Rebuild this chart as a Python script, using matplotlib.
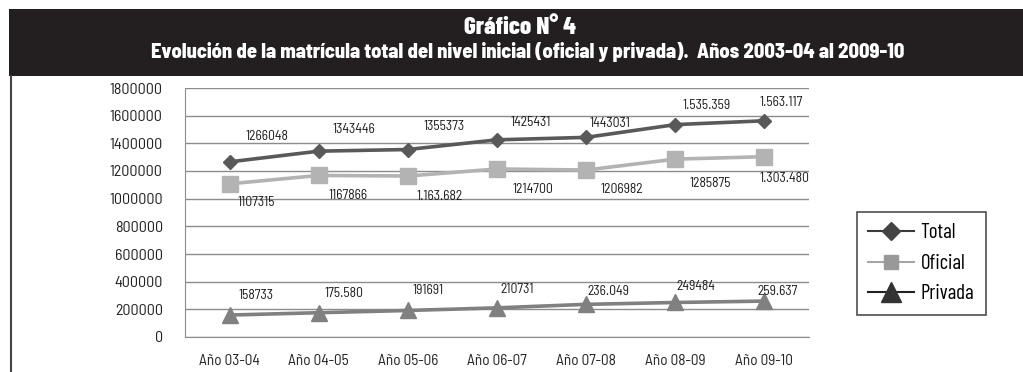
import matplotlib
matplotlib.use("Agg")
import matplotlib.pyplot as plt
from matplotlib.lines import Line2D
from matplotlib.patches import Rectangle

# Enrolment series, school years 2003-04 .. 2009-10
years = ["Año 03-04", "Año 04-05", "Año 05-06", "Año 06-07", "Año 07-08", "Año 08-09", "Año 09-10"]
total = [1266048, 1343446, 1355373, 1425431, 1443031, 1535359, 1563117]
oficial = [1107315, 1167866, 1163682, 1214700, 1206982, 1285875, 1303480]
privada = [158733, 175580, 191691, 210731, 236049, 249484, 259637]

# which data labels are printed with thousands separators
total_dots = [False, False, False, False, False, True, True]
oficial_dots = [False, False, True, False, False, False, True]
privada_dots = [False, True, False, False, True, False, True]

# label offsets in pixels (dx, dy; dy positive = upwards)
total_off = [(37, 25), (35, 22), (36, 23), (34, 17), (24, 14), (31, 19), (17, 18)]
oficial_off = [(27, -19), (29, -20), (32, -20), (36, -21), (36, -19), (35, -24), (20, -22)]
privada_off = [(26, 20), (25, 19), (20, 20), (20, 18), (22, 13), (21, 16), (13, 10)]

W, H = 1023, 372
DPI = 100
COND = ["Barlow Condensed", "DejaVu Sans"]
SEMI = ["Barlow Semi Condensed", "DejaVu Sans"]

fig = plt.figure(figsize=(W / DPI, H / DPI), dpi=DPI)
fig.patch.set_facecolor("white")

# header band
fig.patches.append(Rectangle((9 / W, 1 - 76 / H), 1 - 9 / W, 67 / H,
                             transform=fig.transFigure, facecolor="#231f20",
                             edgecolor="none", zorder=0))
fig.text(0.5 + 8 / W, 1 - 34 / H, "Gráfico N° 4", color="white", ha="center", va="baseline",
         fontsize=18, fontweight=800, family=COND)
fig.text(0.5 + 16 / W, 1 - 58 / H,
         "Evolución de la matrícula total del nivel inicial (oficial y privada).  Años 2003-04 al 2009-10",
         color="white", ha="center", va="baseline", fontsize=14.7, fontweight=800, family=SEMI)
# left border of the chart frame
fig.add_artist(Line2D([11 / W, 11 / W], [0, 1 - 76 / H], transform=fig.transFigure,
                      color="#444444", lw=1.5))

ax = fig.add_axes([185 / W, (H - 337) / H, (809 - 185) / W, (337 - 88) / H])
x = list(range(len(years)))

ax.plot(x, total, color="#595959", lw=2.6, marker="D", ms=7, mec="#595959", mfc="#595959", zorder=4)
ax.plot(x, oficial, color="#b3b3b3", lw=2.6, marker="s", ms=11, mec="#b3b3b3", mfc="#b3b3b3", zorder=3)
ax.plot(x, privada, color="#808080", lw=2.6, marker="^", ms=12, mec="#808080", mfc="#808080", zorder=3)


def fmt(v, dots):
    return f"{v:,}".replace(",", ".") if dots else str(v)


for vals, dots, offs in [(total, total_dots, total_off),
                         (oficial, oficial_dots, oficial_off),
                         (privada, privada_dots, privada_off)]:
    for i, v in enumerate(vals):
        dx, dy = offs[i]
        ax.annotate(fmt(v, dots[i]), (i, v), xytext=(dx * 0.72, dy * 0.72),
                    textcoords="offset points", ha="center", va="center",
                    fontsize=9.8, family=SEMI, color="#1a1a1a")

ax.set_xlim(-0.5, len(years) - 0.5)
ax.set_ylim(0, 1800000)
ax.set_yticks(range(0, 1800001, 200000))
ax.set_yticklabels([str(v) for v in range(0, 1800001, 200000)], family=SEMI, fontsize=11.5)
ax.set_xticks(x)
ax.set_xticklabels(years, family=SEMI, fontsize=11)
ax.tick_params(length=0, pad=16, colors="#222222")
ax.tick_params(axis="x", pad=12)
ax.yaxis.grid(True, color="#8c8c8c", lw=1)
ax.set_axisbelow(True)
for s in ["top", "right"]:
    ax.spines[s].set_visible(False)
ax.spines["left"].set_color("#8c8c8c")
ax.spines["bottom"].set_color("#8c8c8c")

handles = [
    Line2D([], [], color="#3a3a3a", lw=1.5, marker="D", ms=9, mfc="#444444", mec="#444444"),
    Line2D([], [], color="#a6a6a6", lw=1.5, marker="s", ms=9.5, mfc="#999999", mec="#999999"),
    Line2D([], [], color="#222222", lw=1.5, marker="^", ms=14, mfc="#333333", mec="#333333"),
]
leg = fig.legend(handles, ["Total", "Oficial", "Privada"],
                 loc="upper left", bbox_to_anchor=(857 / W, 1 - 212 / H),
                 prop={"family": COND, "size": 15}, frameon=True, fancybox=False,
                 handlelength=2.2, handletextpad=0.3, labelspacing=0.55,
                 borderpad=0.55, borderaxespad=0)
leg.get_frame().set_edgecolor("#222222")
leg.get_frame().set_linewidth(1.2)

fig.savefig("out.png", dpi=DPI)
